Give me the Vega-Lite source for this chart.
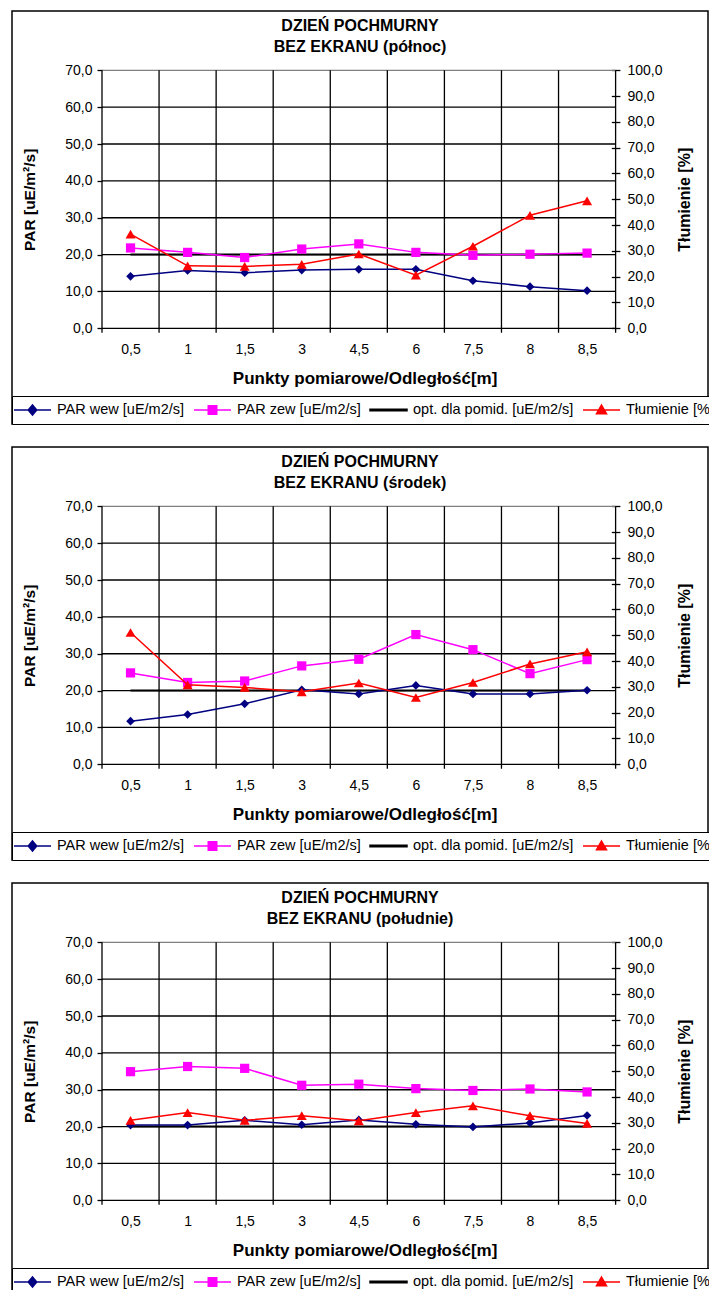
{
  "$schema": "https://vega.github.io/schema/vega-lite/v6.json",
  "padding": {"left": 10, "top": 10, "right": 0, "bottom": 0},
  "config": {
    "font": "Liberation Sans",
    "view": {"stroke": "#000", "strokeWidth": 1.5},
    "legend": {
      "orient": "bottom-left", "offset": 0, "direction": "horizontal", "columns": 4,
      "padding": 1, "strokeColor": "#000", "fillColor": "#fff",
      "symbolSize": 1369, "symbolStrokeWidth": 1.5, "symbolOffset": 0, "symbolOpacity": 1,
      "labelFontSize": 14.5, "labelColor": "#000", "labelFont": "Liberation Sans",
      "labelOffset": 5, "columnPadding": 8, "clipHeight": 26, "labelLimit": 400
    },
    "title": {"fontSize": 16, "fontWeight": "bold", "color": "#000", "anchor": "middle", "frame": "group", "offset": -44.4, "lineHeight": 21.5, "font": "Liberation Sans"}
  },
  "datasets": {
    "hg": [{"v": 0}, {"v": 10}, {"v": 20}, {"v": 30}, {"v": 40}, {"v": 50}, {"v": 60}, {"v": 70}],
    "vg": [{"b": -0.5}, {"b": 0.5}, {"b": 1.5}, {"b": 2.5}, {"b": 3.5}, {"b": 4.5}, {"b": 5.5}, {"b": 6.5}, {"b": 7.5}, {"b": 8.5}]
  },
  "resolve": {"scale": {"fill": "independent", "stroke": "independent", "shape": "independent"}},
  "spacing": 20,
  "vconcat": [
    {
      "width": 696, "height": 413,
      "title": {"text": ["DZIEŃ POCHMURNY", "BEZ EKRANU (północ)"]},
      "data": {"values": [
        {"i": 0, "odl": "0,5", "wew": 14.1, "zew": 21.8, "opt": 20, "tl": 36.5},
        {"i": 1, "odl": "1", "wew": 15.7, "zew": 20.6, "opt": 20, "tl": 24.2},
        {"i": 2, "odl": "1,5", "wew": 15.1, "zew": 19.2, "opt": 20, "tl": 24.0},
        {"i": 3, "odl": "3", "wew": 15.8, "zew": 21.5, "opt": 20, "tl": 24.8},
        {"i": 4, "odl": "4,5", "wew": 16.0, "zew": 22.9, "opt": 20, "tl": 28.8},
        {"i": 5, "odl": "6", "wew": 16.0, "zew": 20.6, "opt": 20, "tl": 20.6},
        {"i": 6, "odl": "7,5", "wew": 12.9, "zew": 19.8, "opt": 20, "tl": 31.8},
        {"i": 7, "odl": "8", "wew": 11.3, "zew": 20.1, "opt": 20, "tl": 43.8},
        {"i": 8, "odl": "8,5", "wew": 10.2, "zew": 20.4, "opt": 20, "tl": 49.4}
      ]},
      "resolve": {"scale": {"y": "independent"}},
      "layer": [
        {
          "layer": [
            {
              "data": {"name": "hg"},
              "mark": {"type": "rule", "strokeWidth": 1.3},
              "encoding": {
                "y": {"field": "v", "type": "quantitative", "scale": {"domain": [-25.966, 86.089], "nice": false, "zero": false},
                  "axis": {"orient": "left", "offset": -90, "values": [0, 10, 20, 30, 40, 50, 60, 70], "labelExpr": "replace(format(datum.value, '.1f'), '.', ',')", "domain": false, "grid": false, "tickSize": 5, "tickColor": "#000", "tickWidth": 1.3, "labelPadding": 5, "labelFontSize": 14, "labelColor": "#000", "title": "PAR [uE/m²/s]", "titleFontSize": 15.5, "titleFontWeight": "bold", "titleColor": "#000", "titleX": -72.7, "titleY": 188.3, "titleAngle": 270, "titleAlign": "center", "titleBaseline": "middle"}},
                "x": {"datum": -0.5, "type": "quantitative", "scale": {"domain": [-2.077, 10.119], "nice": false, "zero": false},
                  "axis": {"orient": "bottom", "offset": -95.7, "values": [0, 1, 2, 3, 4, 5, 6, 7, 8], "labelExpr": "['0,5','1','1,5','3','4,5','6','7,5','8','8,5'][datum.value]", "domain": false, "grid": false, "ticks": false, "tickSize": 0, "labelPadding": 21, "labelBaseline": "middle", "labelFontSize": 14, "labelColor": "#000", "labelFlush": false, "labelOverlap": false, "title": "Punkty pomiarowe/Odległość[m]", "titleFontSize": 17, "titleFontWeight": "bold", "titleColor": "#000", "titleX": 352.6, "titleY": 49.7, "titleBaseline": "middle", "titleAlign": "center"}},
                "x2": {"datum": 8.5},
                "color": {"condition": {"test": "datum.v === 70", "value": "#808080"}, "value": "#000000"}
              }
            },
            {
              "data": {"name": "vg"},
              "mark": {"type": "rule", "strokeWidth": 1.3, "color": "#000"},
              "encoding": {
                "x": {"field": "b", "type": "quantitative", "scale": {"domain": [-2.077, 10.119], "nice": false, "zero": false}},
                "y": {"datum": -1.2, "type": "quantitative", "scale": {"domain": [-25.966, 86.089], "nice": false, "zero": false}},
                "y2": {"datum": 70}
              }
            },
            {
              "mark": {"type": "line", "color": "#000", "strokeWidth": 2},
              "encoding": {
                "x": {"field": "i", "type": "quantitative", "scale": {"domain": [-2.077, 10.119], "nice": false, "zero": false}},
                "y": {"field": "opt", "type": "quantitative", "scale": {"domain": [-25.966, 86.089], "nice": false, "zero": false}}
              }
            },
            {
              "mark": {"type": "line", "color": "#FF00FF", "strokeWidth": 1.5, "point": {"shape": "square", "filled": true, "size": 85, "color": "#FF00FF", "opacity": 1}},
              "encoding": {
                "x": {"field": "i", "type": "quantitative", "scale": {"domain": [-2.077, 10.119], "nice": false, "zero": false}},
                "y": {"field": "zew", "type": "quantitative", "scale": {"domain": [-25.966, 86.089], "nice": false, "zero": false}}
              }
            },
            {
              "mark": {"type": "line", "color": "#000080", "strokeWidth": 1.5, "point": {"shape": "diamond", "filled": true, "size": 75, "color": "#000080", "opacity": 1}},
              "encoding": {
                "x": {"field": "i", "type": "quantitative", "scale": {"domain": [-2.077, 10.119], "nice": false, "zero": false}},
                "y": {"field": "wew", "type": "quantitative", "scale": {"domain": [-25.966, 86.089], "nice": false, "zero": false}}
              }
            },
            {
              "transform": [{"filter": "false"}],
              "mark": {"type": "point", "filled": true, "opacity": 1},
              "encoding": {
                "fill": {"field": "s", "type": "nominal", "scale": {"domain": ["PAR wew [uE/m2/s]", "PAR zew [uE/m2/s]", "opt. dla pomid. [uE/m2/s]", "Tłumienie [%]"], "range": ["#000080", "#FF00FF", "#000000", "#FF0000"]}, "legend": {"title": null}},
                "stroke": {"field": "s", "type": "nominal", "scale": {"domain": ["PAR wew [uE/m2/s]", "PAR zew [uE/m2/s]", "opt. dla pomid. [uE/m2/s]", "Tłumienie [%]"], "range": ["#000080", "#FF00FF", "#000000", "#FF0000"]}, "legend": {"title": null}},
                "shape": {"field": "s", "type": "nominal", "scale": {"domain": ["PAR wew [uE/m2/s]", "PAR zew [uE/m2/s]", "opt. dla pomid. [uE/m2/s]", "Tłumienie [%]"], "range": ["M-1,0H1M0,-0.27L0.23,0L0,0.27L-0.23,0Z", "M-1,0H1M-0.23,-0.23H0.23V0.23H-0.23Z", "M-1,-0.04H1V0.04H-1Z", "M-1,0H1M0,-0.27L0.27,0.2H-0.27Z"]}, "legend": {"title": null}}
              }
            }
          ]
        },
        {
          "mark": {"type": "line", "color": "#FF0000", "strokeWidth": 1.5, "point": {"shape": "triangle-up", "filled": true, "size": 100, "color": "#FF0000", "opacity": 1}},
          "encoding": {
            "x": {"field": "i", "type": "quantitative", "scale": {"domain": [-2.077, 10.119], "nice": false, "zero": false}},
            "y": {"field": "tl", "type": "quantitative", "scale": {"domain": [-37.093, 122.984], "nice": false, "zero": false},
              "axis": {"orient": "right", "offset": -96.7, "values": [0, 10, 20, 30, 40, 50, 60, 70, 80, 90, 100], "labelExpr": "replace(format(datum.value, '.1f'), '.', ',')", "domain": false, "grid": false, "tickSize": 8.6, "tickColor": "#000", "tickWidth": 1.3, "labelPadding": 7, "labelFontSize": 14, "labelColor": "#000", "title": "Tłumienie [%]", "titleFontSize": 16, "titleFontWeight": "bold", "titleColor": "#000", "titleX": 73, "titleY": 188.3, "titleAngle": 270, "titleAlign": "center", "titleBaseline": "middle"}}
          }
        }
      ]
    },
    {
      "width": 696, "height": 413,
      "title": {"text": ["DZIEŃ POCHMURNY", "BEZ EKRANU (środek)"]},
      "data": {"values": [
        {"i": 0, "odl": "0,5", "wew": 11.7, "zew": 24.8, "opt": 20, "tl": 51.1},
        {"i": 1, "odl": "1", "wew": 13.5, "zew": 22.2, "opt": 20, "tl": 30.8},
        {"i": 2, "odl": "1,5", "wew": 16.4, "zew": 22.6, "opt": 20, "tl": 29.8},
        {"i": 3, "odl": "3", "wew": 20.2, "zew": 26.7, "opt": 20, "tl": 28.1},
        {"i": 4, "odl": "4,5", "wew": 19.1, "zew": 28.5, "opt": 20, "tl": 31.5},
        {"i": 5, "odl": "6", "wew": 21.4, "zew": 35.2, "opt": 20, "tl": 25.9},
        {"i": 6, "odl": "7,5", "wew": 19.1, "zew": 31.1, "opt": 20, "tl": 31.7},
        {"i": 7, "odl": "8", "wew": 19.1, "zew": 24.6, "opt": 20, "tl": 38.9},
        {"i": 8, "odl": "8,5", "wew": 20.1, "zew": 28.4, "opt": 20, "tl": 43.6}
      ]},
      "resolve": {"scale": {"y": "independent"}},
      "layer": [
        {
          "layer": [
            {
              "data": {"name": "hg"},
              "mark": {"type": "rule", "strokeWidth": 1.3},
              "encoding": {
                "y": {"field": "v", "type": "quantitative", "scale": {"domain": [-25.966, 86.089], "nice": false, "zero": false},
                  "axis": {"orient": "left", "offset": -90, "values": [0, 10, 20, 30, 40, 50, 60, 70], "labelExpr": "replace(format(datum.value, '.1f'), '.', ',')", "domain": false, "grid": false, "tickSize": 5, "tickColor": "#000", "tickWidth": 1.3, "labelPadding": 5, "labelFontSize": 14, "labelColor": "#000", "title": "PAR [uE/m²/s]", "titleFontSize": 15.5, "titleFontWeight": "bold", "titleColor": "#000", "titleX": -72.7, "titleY": 188.3, "titleAngle": 270, "titleAlign": "center", "titleBaseline": "middle"}},
                "x": {"datum": -0.5, "type": "quantitative", "scale": {"domain": [-2.077, 10.119], "nice": false, "zero": false},
                  "axis": {"orient": "bottom", "offset": -95.7, "values": [0, 1, 2, 3, 4, 5, 6, 7, 8], "labelExpr": "['0,5','1','1,5','3','4,5','6','7,5','8','8,5'][datum.value]", "domain": false, "grid": false, "ticks": false, "tickSize": 0, "labelPadding": 21, "labelBaseline": "middle", "labelFontSize": 14, "labelColor": "#000", "labelFlush": false, "labelOverlap": false, "title": "Punkty pomiarowe/Odległość[m]", "titleFontSize": 17, "titleFontWeight": "bold", "titleColor": "#000", "titleX": 352.6, "titleY": 49.7, "titleBaseline": "middle", "titleAlign": "center"}},
                "x2": {"datum": 8.5},
                "color": {"condition": {"test": "datum.v === 70", "value": "#808080"}, "value": "#000000"}
              }
            },
            {
              "data": {"name": "vg"},
              "mark": {"type": "rule", "strokeWidth": 1.3, "color": "#000"},
              "encoding": {
                "x": {"field": "b", "type": "quantitative", "scale": {"domain": [-2.077, 10.119], "nice": false, "zero": false}},
                "y": {"datum": -1.2, "type": "quantitative", "scale": {"domain": [-25.966, 86.089], "nice": false, "zero": false}},
                "y2": {"datum": 70}
              }
            },
            {
              "mark": {"type": "line", "color": "#000", "strokeWidth": 2},
              "encoding": {
                "x": {"field": "i", "type": "quantitative", "scale": {"domain": [-2.077, 10.119], "nice": false, "zero": false}},
                "y": {"field": "opt", "type": "quantitative", "scale": {"domain": [-25.966, 86.089], "nice": false, "zero": false}}
              }
            },
            {
              "mark": {"type": "line", "color": "#FF00FF", "strokeWidth": 1.5, "point": {"shape": "square", "filled": true, "size": 85, "color": "#FF00FF", "opacity": 1}},
              "encoding": {
                "x": {"field": "i", "type": "quantitative", "scale": {"domain": [-2.077, 10.119], "nice": false, "zero": false}},
                "y": {"field": "zew", "type": "quantitative", "scale": {"domain": [-25.966, 86.089], "nice": false, "zero": false}}
              }
            },
            {
              "mark": {"type": "line", "color": "#000080", "strokeWidth": 1.5, "point": {"shape": "diamond", "filled": true, "size": 75, "color": "#000080", "opacity": 1}},
              "encoding": {
                "x": {"field": "i", "type": "quantitative", "scale": {"domain": [-2.077, 10.119], "nice": false, "zero": false}},
                "y": {"field": "wew", "type": "quantitative", "scale": {"domain": [-25.966, 86.089], "nice": false, "zero": false}}
              }
            },
            {
              "transform": [{"filter": "false"}],
              "mark": {"type": "point", "filled": true, "opacity": 1},
              "encoding": {
                "fill": {"field": "s", "type": "nominal", "scale": {"domain": ["PAR wew [uE/m2/s]", "PAR zew [uE/m2/s]", "opt. dla pomid. [uE/m2/s]", "Tłumienie [%]"], "range": ["#000080", "#FF00FF", "#000000", "#FF0000"]}, "legend": {"title": null}},
                "stroke": {"field": "s", "type": "nominal", "scale": {"domain": ["PAR wew [uE/m2/s]", "PAR zew [uE/m2/s]", "opt. dla pomid. [uE/m2/s]", "Tłumienie [%]"], "range": ["#000080", "#FF00FF", "#000000", "#FF0000"]}, "legend": {"title": null}},
                "shape": {"field": "s", "type": "nominal", "scale": {"domain": ["PAR wew [uE/m2/s]", "PAR zew [uE/m2/s]", "opt. dla pomid. [uE/m2/s]", "Tłumienie [%]"], "range": ["M-1,0H1M0,-0.27L0.23,0L0,0.27L-0.23,0Z", "M-1,0H1M-0.23,-0.23H0.23V0.23H-0.23Z", "M-1,-0.04H1V0.04H-1Z", "M-1,0H1M0,-0.27L0.27,0.2H-0.27Z"]}, "legend": {"title": null}}
              }
            }
          ]
        },
        {
          "mark": {"type": "line", "color": "#FF0000", "strokeWidth": 1.5, "point": {"shape": "triangle-up", "filled": true, "size": 100, "color": "#FF0000", "opacity": 1}},
          "encoding": {
            "x": {"field": "i", "type": "quantitative", "scale": {"domain": [-2.077, 10.119], "nice": false, "zero": false}},
            "y": {"field": "tl", "type": "quantitative", "scale": {"domain": [-37.093, 122.984], "nice": false, "zero": false},
              "axis": {"orient": "right", "offset": -96.7, "values": [0, 10, 20, 30, 40, 50, 60, 70, 80, 90, 100], "labelExpr": "replace(format(datum.value, '.1f'), '.', ',')", "domain": false, "grid": false, "tickSize": 8.6, "tickColor": "#000", "tickWidth": 1.3, "labelPadding": 7, "labelFontSize": 14, "labelColor": "#000", "title": "Tłumienie [%]", "titleFontSize": 16, "titleFontWeight": "bold", "titleColor": "#000", "titleX": 73, "titleY": 188.3, "titleAngle": 270, "titleAlign": "center", "titleBaseline": "middle"}}
          }
        }
      ]
    },
    {
      "width": 696, "height": 413,
      "title": {"text": ["DZIEŃ POCHMURNY", "BEZ EKRANU (południe)"]},
      "data": {"values": [
        {"i": 0, "odl": "0,5", "wew": 20.4, "zew": 34.9, "opt": 20, "tl": 31.0},
        {"i": 1, "odl": "1", "wew": 20.4, "zew": 36.3, "opt": 20, "tl": 34.0},
        {"i": 2, "odl": "1,5", "wew": 21.7, "zew": 35.8, "opt": 20, "tl": 31.0},
        {"i": 3, "odl": "3", "wew": 20.5, "zew": 31.2, "opt": 20, "tl": 32.8},
        {"i": 4, "odl": "4,5", "wew": 21.8, "zew": 31.5, "opt": 20, "tl": 30.8},
        {"i": 5, "odl": "6", "wew": 20.6, "zew": 30.3, "opt": 20, "tl": 34.0},
        {"i": 6, "odl": "7,5", "wew": 19.9, "zew": 29.8, "opt": 20, "tl": 36.6},
        {"i": 7, "odl": "8", "wew": 21.0, "zew": 30.2, "opt": 20, "tl": 32.8},
        {"i": 8, "odl": "8,5", "wew": 23.0, "zew": 29.4, "opt": 20, "tl": 29.8}
      ]},
      "resolve": {"scale": {"y": "independent"}},
      "layer": [
        {
          "layer": [
            {
              "data": {"name": "hg"},
              "mark": {"type": "rule", "strokeWidth": 1.3},
              "encoding": {
                "y": {"field": "v", "type": "quantitative", "scale": {"domain": [-25.966, 86.089], "nice": false, "zero": false},
                  "axis": {"orient": "left", "offset": -90, "values": [0, 10, 20, 30, 40, 50, 60, 70], "labelExpr": "replace(format(datum.value, '.1f'), '.', ',')", "domain": false, "grid": false, "tickSize": 5, "tickColor": "#000", "tickWidth": 1.3, "labelPadding": 5, "labelFontSize": 14, "labelColor": "#000", "title": "PAR [uE/m²/s]", "titleFontSize": 15.5, "titleFontWeight": "bold", "titleColor": "#000", "titleX": -72.7, "titleY": 188.3, "titleAngle": 270, "titleAlign": "center", "titleBaseline": "middle"}},
                "x": {"datum": -0.5, "type": "quantitative", "scale": {"domain": [-2.077, 10.119], "nice": false, "zero": false},
                  "axis": {"orient": "bottom", "offset": -95.7, "values": [0, 1, 2, 3, 4, 5, 6, 7, 8], "labelExpr": "['0,5','1','1,5','3','4,5','6','7,5','8','8,5'][datum.value]", "domain": false, "grid": false, "ticks": false, "tickSize": 0, "labelPadding": 21, "labelBaseline": "middle", "labelFontSize": 14, "labelColor": "#000", "labelFlush": false, "labelOverlap": false, "title": "Punkty pomiarowe/Odległość[m]", "titleFontSize": 17, "titleFontWeight": "bold", "titleColor": "#000", "titleX": 352.6, "titleY": 49.7, "titleBaseline": "middle", "titleAlign": "center"}},
                "x2": {"datum": 8.5},
                "color": {"condition": {"test": "datum.v === 70", "value": "#808080"}, "value": "#000000"}
              }
            },
            {
              "data": {"name": "vg"},
              "mark": {"type": "rule", "strokeWidth": 1.3, "color": "#000"},
              "encoding": {
                "x": {"field": "b", "type": "quantitative", "scale": {"domain": [-2.077, 10.119], "nice": false, "zero": false}},
                "y": {"datum": -1.2, "type": "quantitative", "scale": {"domain": [-25.966, 86.089], "nice": false, "zero": false}},
                "y2": {"datum": 70}
              }
            },
            {
              "mark": {"type": "line", "color": "#000", "strokeWidth": 2},
              "encoding": {
                "x": {"field": "i", "type": "quantitative", "scale": {"domain": [-2.077, 10.119], "nice": false, "zero": false}},
                "y": {"field": "opt", "type": "quantitative", "scale": {"domain": [-25.966, 86.089], "nice": false, "zero": false}}
              }
            },
            {
              "mark": {"type": "line", "color": "#FF00FF", "strokeWidth": 1.5, "point": {"shape": "square", "filled": true, "size": 85, "color": "#FF00FF", "opacity": 1}},
              "encoding": {
                "x": {"field": "i", "type": "quantitative", "scale": {"domain": [-2.077, 10.119], "nice": false, "zero": false}},
                "y": {"field": "zew", "type": "quantitative", "scale": {"domain": [-25.966, 86.089], "nice": false, "zero": false}}
              }
            },
            {
              "mark": {"type": "line", "color": "#000080", "strokeWidth": 1.5, "point": {"shape": "diamond", "filled": true, "size": 75, "color": "#000080", "opacity": 1}},
              "encoding": {
                "x": {"field": "i", "type": "quantitative", "scale": {"domain": [-2.077, 10.119], "nice": false, "zero": false}},
                "y": {"field": "wew", "type": "quantitative", "scale": {"domain": [-25.966, 86.089], "nice": false, "zero": false}}
              }
            },
            {
              "transform": [{"filter": "false"}],
              "mark": {"type": "point", "filled": true, "opacity": 1},
              "encoding": {
                "fill": {"field": "s", "type": "nominal", "scale": {"domain": ["PAR wew [uE/m2/s]", "PAR zew [uE/m2/s]", "opt. dla pomid. [uE/m2/s]", "Tłumienie [%]"], "range": ["#000080", "#FF00FF", "#000000", "#FF0000"]}, "legend": {"title": null}},
                "stroke": {"field": "s", "type": "nominal", "scale": {"domain": ["PAR wew [uE/m2/s]", "PAR zew [uE/m2/s]", "opt. dla pomid. [uE/m2/s]", "Tłumienie [%]"], "range": ["#000080", "#FF00FF", "#000000", "#FF0000"]}, "legend": {"title": null}},
                "shape": {"field": "s", "type": "nominal", "scale": {"domain": ["PAR wew [uE/m2/s]", "PAR zew [uE/m2/s]", "opt. dla pomid. [uE/m2/s]", "Tłumienie [%]"], "range": ["M-1,0H1M0,-0.27L0.23,0L0,0.27L-0.23,0Z", "M-1,0H1M-0.23,-0.23H0.23V0.23H-0.23Z", "M-1,-0.04H1V0.04H-1Z", "M-1,0H1M0,-0.27L0.27,0.2H-0.27Z"]}, "legend": {"title": null}}
              }
            }
          ]
        },
        {
          "mark": {"type": "line", "color": "#FF0000", "strokeWidth": 1.5, "point": {"shape": "triangle-up", "filled": true, "size": 100, "color": "#FF0000", "opacity": 1}},
          "encoding": {
            "x": {"field": "i", "type": "quantitative", "scale": {"domain": [-2.077, 10.119], "nice": false, "zero": false}},
            "y": {"field": "tl", "type": "quantitative", "scale": {"domain": [-37.093, 122.984], "nice": false, "zero": false},
              "axis": {"orient": "right", "offset": -96.7, "values": [0, 10, 20, 30, 40, 50, 60, 70, 80, 90, 100], "labelExpr": "replace(format(datum.value, '.1f'), '.', ',')", "domain": false, "grid": false, "tickSize": 8.6, "tickColor": "#000", "tickWidth": 1.3, "labelPadding": 7, "labelFontSize": 14, "labelColor": "#000", "title": "Tłumienie [%]", "titleFontSize": 16, "titleFontWeight": "bold", "titleColor": "#000", "titleX": 73, "titleY": 188.3, "titleAngle": 270, "titleAlign": "center", "titleBaseline": "middle"}}
          }
        }
      ]
    }
  ]
}
